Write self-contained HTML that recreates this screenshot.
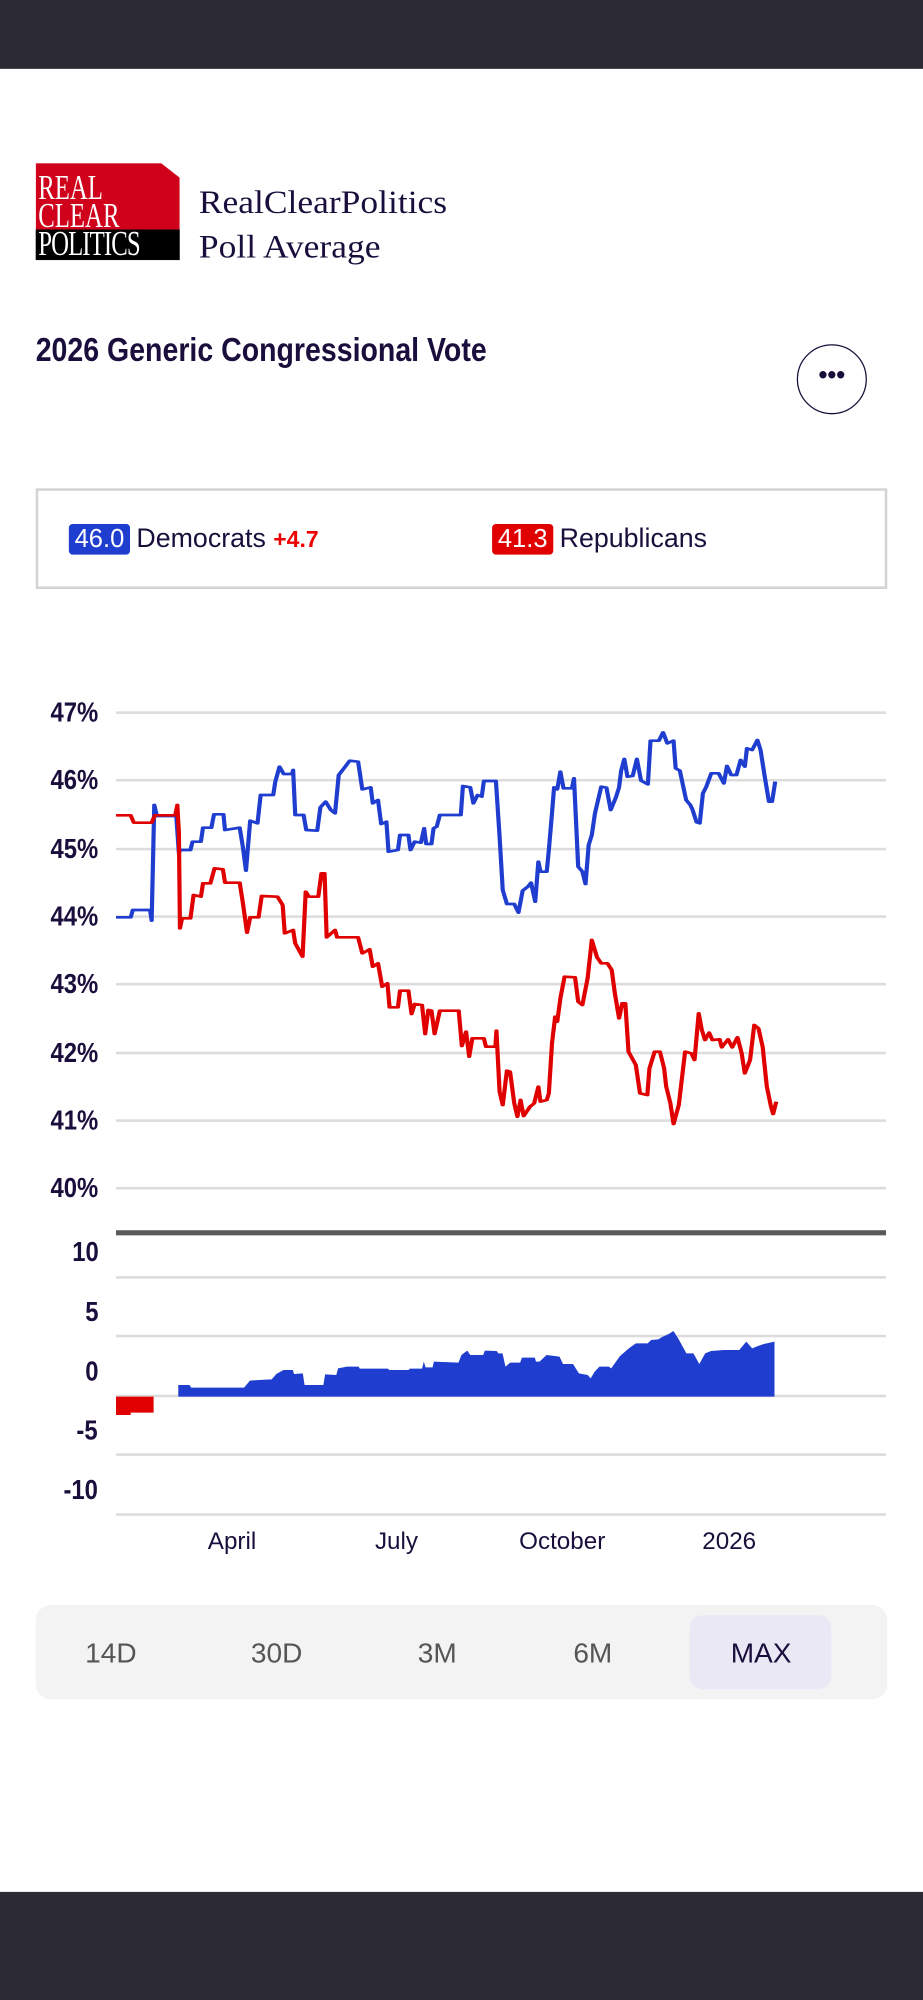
<!DOCTYPE html>
<html><head><meta charset="utf-8"><style>
*{margin:0;padding:0;box-sizing:border-box}
body{width:923px;height:2000px;overflow:hidden;background:#fff;position:relative;font-family:"Liberation Sans",sans-serif}
#w{position:absolute;left:0;top:0;width:724px;height:1569px;transform:scale(1.27486);transform-origin:0 0}
.a{position:absolute}
.yl{position:absolute;right:647px;font-weight:bold;font-size:22px;color:#1a0f3c;transform:scaleX(.85);transform-origin:right}
.g{position:absolute;left:91px;width:604px;height:2px;background:#dcdcdc}
.xl{position:absolute;top:1199px;font-size:19px;color:#1a0f3c;transform:translateX(-50%)}
.bt{position:absolute;top:1284px;font-size:22px;color:#555;transform:translateX(-50%)}
</style></head><body>
<div id="w">
<div class="a" style="left:0;top:0;width:724px;height:54px;background:#2b2a35"></div>
<div class="a" style="left:0;top:1484px;width:724px;height:85px;background:#2b2a35"></div>
<div class="a" style="left:28px;top:128px;width:113px;height:52px;background:#d0021b;clip-path:polygon(0 0,87% 0,100% 22%,100% 100%,0 100%)"></div>
<div class="a" style="left:28px;top:180px;width:113px;height:24px;background:#000"></div>
<div class="a" style="left:30px;top:136px;font-family:'Liberation Serif',serif;font-size:27px;line-height:22px;color:#fff;transform:scaleX(.72);transform-origin:left;white-space:nowrap">REAL<br>CLEAR<br><span style="letter-spacing:-1px">POLITICS</span></div>
<div class="a" style="left:156px;top:141px;font-family:'Liberation Serif',serif;font-size:26px;line-height:35px;color:#1a0f3c;transform:scaleX(1.07);transform-origin:left;white-space:nowrap">RealClearPolitics<br>Poll Average</div>
<div class="a" style="left:28px;top:259px;font-size:26px;font-weight:bold;color:#1a0f3c;transform:scaleX(.86);transform-origin:left;white-space:nowrap">2026 Generic Congressional Vote</div>
<div class="a" style="left:625px;top:270px;width:55px;height:55px;border:1.5px solid #1a0f3c;border-radius:50%;text-align:center;line-height:48px;font-size:20px;font-weight:bold;color:#1a0f3c">•••</div>
<div class="a" style="left:28px;top:383px;width:668px;height:79px;border:2px solid #d4d4d4"></div>
<div class="a" style="left:54px;top:411px;width:48px;height:24px;background:#1f3ed0;border-radius:3px;color:#fff;font-size:20px;text-align:center;line-height:24px">46.0</div>
<div class="a" style="left:107px;top:411px;font-size:21px;line-height:24px;color:#1a0f3c;white-space:nowrap">Democrats <span style="color:#e00;font-weight:bold;font-size:18px">+4.7</span></div>
<div class="a" style="left:386px;top:411px;width:48px;height:24px;background:#e00000;border-radius:3px;color:#fff;font-size:20px;text-align:center;line-height:24px">41.3</div>
<div class="a" style="left:439px;top:411px;font-size:21px;line-height:24px;color:#1a0f3c">Republicans</div>

<div class="g" style="top:558px"></div><div class="g" style="top:611px"></div><div class="g" style="top:665px"></div><div class="g" style="top:718px"></div><div class="g" style="top:771px"></div><div class="g" style="top:825px"></div><div class="g" style="top:878px"></div><div class="g" style="top:931px"></div>
<div class="yl" style="top:546px">47%</div><div class="yl" style="top:599px">46%</div><div class="yl" style="top:653px">45%</div><div class="yl" style="top:706px">44%</div><div class="yl" style="top:759px">43%</div><div class="yl" style="top:813px">42%</div><div class="yl" style="top:866px">41%</div><div class="yl" style="top:919px">40%</div>
<div class="a" style="left:91px;top:965px;width:604px;height:4px;background:#595959"></div>
<div class="g" style="top:1001px"></div><div class="g" style="top:1047px"></div><div class="g" style="top:1094px"></div><div class="g" style="top:1140px"></div><div class="g" style="top:1187px"></div>
<div class="yl" style="top:969px">10</div><div class="yl" style="top:1016px">5</div><div class="yl" style="top:1063px">0</div><div class="yl" style="top:1109px">-5</div><div class="yl" style="top:1156px">-10</div>
<div class="xl" style="left:182px">April</div><div class="xl" style="left:311px">July</div><div class="xl" style="left:441px">October</div><div class="xl" style="left:572px">2026</div>
<div class="a" style="left:28px;top:1259px;width:668px;height:74px;background:#f3f3f3;border-radius:12px"></div>
<div class="a" style="left:541px;top:1267px;width:111px;height:58px;background:#ebe8f6;border-radius:10px"></div>
<div class="bt" style="left:87px">14D</div><div class="bt" style="left:217px">30D</div><div class="bt" style="left:343px">3M</div><div class="bt" style="left:465px">6M</div><div class="bt" style="left:597px;color:#1a0f3c">MAX</div>
</div>
<svg class="a" style="left:0;top:0" width="923" height="2000" viewBox="0 0 923 2000">
<g transform="translate(0.3,1220) scale(0.5874,0.33333)">
<polygon fill="#1f3ed0" points="303,530 303,495 322,495 325,503 415,503 425,482 440,480 462,478 470,462 482,450 498,450 500,462 515,460 518,495 550,495 553,463 572,465 575,445 590,440 610,440 612,446 660,446 662,450 695,450 697,446 718,446 721,425 724,442 736,442 738,425 780,428 785,405 795,392 800,405 822,405 825,392 845,393 848,400 855,400 860,440 868,428 885,428 888,413 910,413 912,425 918,425 930,405 952,410 958,432 975,432 985,460 1000,465 1005,475 1012,455 1020,440 1036,440 1040,445 1055,408 1070,385 1082,370 1102,370 1108,360 1120,358 1128,350 1138,342 1146,333 1155,358 1168,400 1180,400 1190,432 1200,400 1210,393 1232,390 1258,390 1270,365 1280,385 1290,378 1300,372 1318,365 1318,530"/>
<polygon fill="#e00000" points="197,530 197,585 222,585 222,578 261,578 261,530"/>
</g>
<g transform="translate(100.3,700) scale(0.524,0.33333)" fill="none" stroke-width="8" stroke-linejoin="round">
<polyline stroke="#1f3ed0" points="30,652 58,652 62,630 95,630 98,662 103,315 108,348 145,348 150,460 152,450 172,450 176,425 192,425 196,383 212,383 217,343 235,343 238,390 266,383 272,440 278,512 286,362 300,370 306,285 330,285 334,245 342,200 350,222 366,222 368,210 372,345 388,345 393,390 414,392 420,322 430,305 440,330 448,340 455,225 465,205 476,182 492,185 500,268 516,262 520,310 530,300 536,372 546,365 550,455 568,450 572,405 588,405 592,450 600,425 612,428 618,385 622,432 632,432 636,385 642,380 648,345 688,345 692,258 706,262 712,310 720,285 728,290 732,243 755,243 762,410 768,570 776,612 790,612 798,638 806,572 816,560 822,548 830,605 836,485 840,515 852,515 856,450 862,340 866,262 872,268 878,215 884,265 900,265 904,235 912,500 920,515 926,552 932,435 938,405 944,340 956,260 966,263 974,330 984,292 990,262 994,212 1000,177 1006,230 1016,228 1024,177 1032,242 1045,253 1050,122 1066,122 1074,97 1082,130 1094,122 1098,205 1106,212 1118,300 1126,315 1130,328 1138,367 1144,370 1150,280 1156,262 1166,220 1180,220 1190,250 1196,198 1204,225 1214,225 1222,180 1230,200 1234,145 1244,150 1254,120 1260,150 1268,230 1276,305 1282,305 1288,245"/>
<polyline stroke="#e00000" points="30,346 58,346 64,368 98,368 104,346 143,346 147,315 150,400 152,685 156,655 172,655 178,585 192,590 196,550 210,550 218,505 234,508 238,548 266,548 272,608 280,698 286,652 302,652 308,588 338,590 348,615 352,700 368,690 372,730 386,770 392,575 398,590 416,590 422,520 428,520 432,712 448,690 452,712 492,712 500,760 514,748 520,800 530,790 538,860 548,850 552,922 568,922 572,872 588,872 594,942 600,912 614,915 620,1002 626,930 632,932 638,1002 648,932 684,932 690,1038 698,995 704,1070 710,1015 732,1015 736,1040 754,1040 756,992 762,1175 768,1215 776,1112 782,1115 790,1210 796,1250 802,1200 808,1248 820,1220 828,1210 836,1160 840,1205 852,1200 856,1180 862,1030 868,950 872,965 878,895 886,830 906,832 912,905 920,915 930,835 938,720 948,772 956,790 968,790 976,810 982,880 990,955 996,910 1002,910 1008,1055 1022,1095 1030,1180 1044,1185 1048,1105 1058,1055 1068,1055 1076,1105 1080,1160 1088,1210 1094,1272 1104,1215 1116,1055 1128,1060 1134,1080 1142,940 1148,990 1154,1020 1162,998 1168,1020 1182,1018 1186,1042 1198,1018 1206,1042 1216,1012 1224,1060 1230,1120 1240,1080 1248,975 1256,985 1264,1040 1272,1160 1280,1220 1284,1242 1290,1205"/>
</g>
</svg>
</body></html>
